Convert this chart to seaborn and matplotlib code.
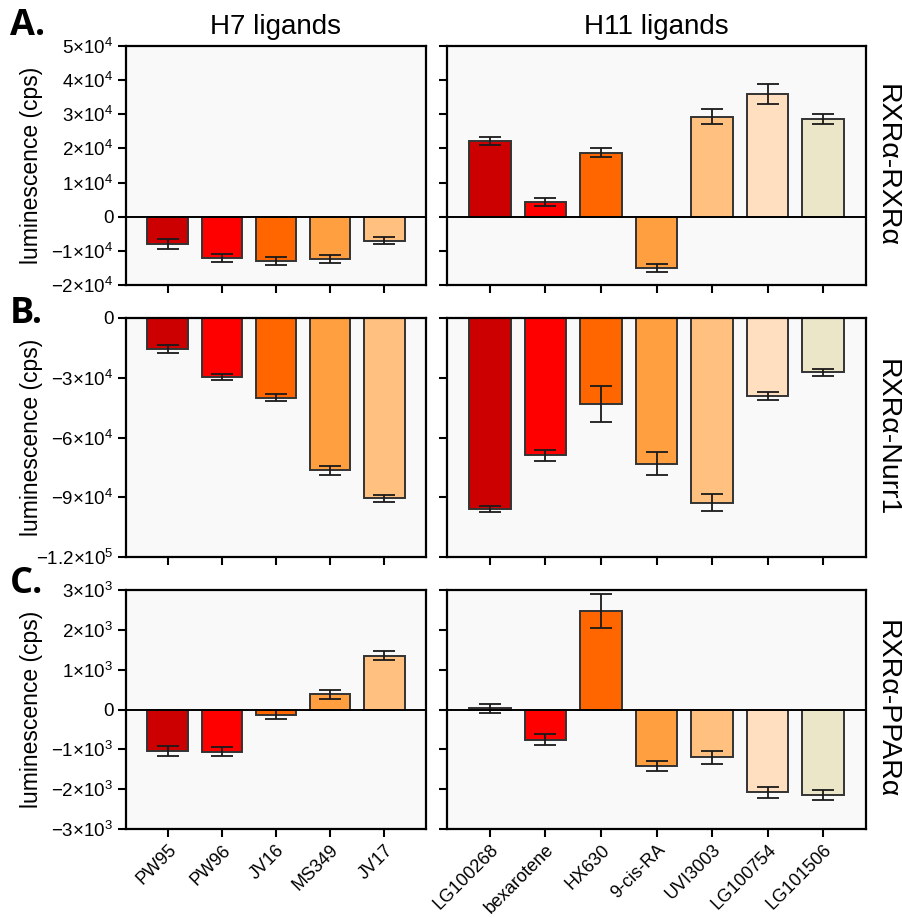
import numpy as np
import pandas as pd
import matplotlib
matplotlib.use("Agg")
import matplotlib.pyplot as plt
import seaborn as sns

# ---------------- data ----------------
h7_ligands = ["PW95", "PW96", "JV16", "MS349", "JV17"]
h11_ligands = ["LG100268", "bexarotene", "HX630", "9-cis-RA", "UVI3003", "LG100754", "LG101506"]

h7_colors = ["#CC0000", "#FF0000", "#FF6600", "#FF9F40", "#FFC080"]
h11_colors = ["#CC0000", "#FF0000", "#FF6600", "#FF9F40", "#FFC080", "#FFDFBF", "#EBE6C8"]

# Panel A: RXRa-RXRa
rxr_h7 = [-8000, -12000, -13000, -12300, -7000]
rxr_h7_err = [1400, 1200, 1100, 1200, 1100]
rxr_h11 = [22200, 4300, 18800, -15100, 29300, 36000, 28600]
rxr_h11_err = [1200, 1300, 1300, 1200, 2200, 2900, 1500]

# Panel B: RXRa-Nurr1
nurr_h7 = [-15600, -29700, -40000, -76400, -90600]
nurr_h7_err = [1900, 1600, 1600, 2300, 1700]
nurr_h11 = [-96000, -69000, -43000, -73200, -92800, -39100, -27200]
nurr_h11_err = [1500, 2900, 9000, 5700, 4300, 2000, 1700]

# Panel C: RXRa-PPARa
ppar_h7 = [-1030, -1060, -130, 380, 1350]
ppar_h7_err = [125, 117, 120, 115, 110]
ppar_h11 = [30, -760, 2470, -1420, -1200, -2080, -2150]
ppar_h11_err = [120, 140, 430, 125, 165, 135, 130]

# y ticks
ticks_a = [-20000, -10000, 0, 10000, 20000, 30000, 40000, 50000]
labels_a = [r"$\mathregular{-2{\times}10^{4}}$", r"$\mathregular{-1{\times}10^{4}}$", "0",
            r"$\mathregular{1{\times}10^{4}}$", r"$\mathregular{2{\times}10^{4}}$",
            r"$\mathregular{3{\times}10^{4}}$", r"$\mathregular{4{\times}10^{4}}$",
            r"$\mathregular{5{\times}10^{4}}$"]
ticks_b = [-120000, -90000, -60000, -30000, 0]
labels_b = [r"$\mathregular{-1.2{\times}10^{5}}$", r"$\mathregular{-9{\times}10^{4}}$",
            r"$\mathregular{-6{\times}10^{4}}$", r"$\mathregular{-3{\times}10^{4}}$", "0"]
ticks_c = [-3000, -2000, -1000, 0, 1000, 2000, 3000]
labels_c = [r"$\mathregular{-3{\times}10^{3}}$", r"$\mathregular{-2{\times}10^{3}}$",
            r"$\mathregular{-1{\times}10^{3}}$", "0", r"$\mathregular{1{\times}10^{3}}$",
            r"$\mathregular{2{\times}10^{3}}$", r"$\mathregular{3{\times}10^{3}}$"]

row_names = ["RXRα-RXRα", "RXRα-Nurr1", "RXRα-PPARα"]
panel_letters = ["A.", "B.", "C."]
col_titles = ["H7 ligands", "H11 ligands"]

# ---------------- style ----------------
sns.set_theme(style="white")
plt.rcParams["font.family"] = ["Liberation Sans", "DejaVu Sans"]
plt.rcParams["mathtext.fontset"] = "custom"
plt.rcParams["mathtext.rm"] = "Liberation Sans"
plt.rcParams["mathtext.it"] = "Liberation Sans:italic"
plt.rcParams["mathtext.bf"] = "Liberation Sans:bold"
plt.rcParams["axes.unicode_minus"] = False
plt.rcParams["text.color"] = "black"
plt.rcParams["axes.labelcolor"] = "black"
plt.rcParams["xtick.color"] = "black"
plt.rcParams["ytick.color"] = "black"

W, H = 903, 918
fig = plt.figure(figsize=(W / 100, H / 100), dpi=100)

def fr(x0, y_top, x1, y_bot):
    return [x0 / W, 1 - y_bot / H, (x1 - x0) / W, (y_bot - y_top) / H]

rows_px = [(46, 285), (318, 557), (590, 829)]
letter_y = [26, 314, 584]
left_px = (126, 426)
right_px = (447, 866)

data = [
    (rxr_h7, rxr_h7_err, rxr_h11, rxr_h11_err, ticks_a, labels_a, (-20000, 50000)),
    (nurr_h7, nurr_h7_err, nurr_h11, nurr_h11_err, ticks_b, labels_b, (-120000, 0)),
    (ppar_h7, ppar_h7_err, ppar_h11, ppar_h11_err, ticks_c, labels_c, (-3000, 3000)),
]

for r, (v7, e7, v11, e11, ticks, tlabels, ylim) in enumerate(data):
    yt, yb = rows_px[r]
    for c, (cats, vals, errs, cols, xp) in enumerate([
        (h7_ligands, v7, e7, h7_colors, left_px),
        (h11_ligands, v11, e11, h11_colors, right_px),
    ]):
        ax = fig.add_axes(fr(xp[0], yt, xp[1], yb))
        ax.set_facecolor("#F9F9F9")
        df = pd.DataFrame({"ligand": cats, "value": vals})
        sns.barplot(data=df, x="ligand", y="value", hue="ligand", order=cats,
                    hue_order=cats, palette=cols, legend=False, saturation=1,
                    edgecolor="#333333", linewidth=1.4, width=0.75,
                    errorbar=None, ax=ax, zorder=2)
        ax.errorbar(np.arange(len(cats)), vals, yerr=errs, fmt="none",
                    ecolor="#1a1a1a", elinewidth=1.3, capsize=8, capthick=1.3,
                    zorder=3)
        ax.axhline(0, color="black", lw=1.4, zorder=4)
        n = len(cats)
        ax.set_xlim(-0.77, n - 1 + 0.77)
        ax.set_ylim(*ylim)
        ax.set_yticks(ticks)
        if c == 0:
            ax.set_yticklabels(tlabels)
            ax.set_ylabel("luminescence (cps)", fontsize=16.5)
            ax.yaxis.set_label_coords(-0.275, 0.5)
        else:
            ax.set_yticklabels([])
            ax.set_ylabel("")
        ax.set_xlabel("")
        ax.set_xticks(np.arange(n))
        if r == 2:
            ax.set_xticklabels(cats, rotation=45, ha="right",
                               rotation_mode="anchor", fontsize=13)
        else:
            ax.set_xticklabels([])
        ax.tick_params(axis="both", which="major", direction="out", length=6,
                       width=1.5, color="black", bottom=True, left=True, pad=3)
        ax.tick_params(axis="y", labelsize=13.5)
        ax.tick_params(axis="x", pad=3)
        for s in ax.spines.values():
            s.set_visible(True)
            s.set_color("black")
            s.set_linewidth(1.6)
        if r == 0:
            ax.set_title(col_titles[c], fontsize=20, pad=9)
    # row label on the right
    fig.text(887 / W, 1 - ((yt + yb) / 2) / H, row_names[r], rotation=270,
             ha="center", va="center", fontsize=20.5)
    fig.text(10 / W, 1 - letter_y[r] / H, panel_letters[r], ha="left",
             va="center", fontsize=26, fontweight="bold", family="Open Sans")

fig.savefig("out.png", dpi=100)
